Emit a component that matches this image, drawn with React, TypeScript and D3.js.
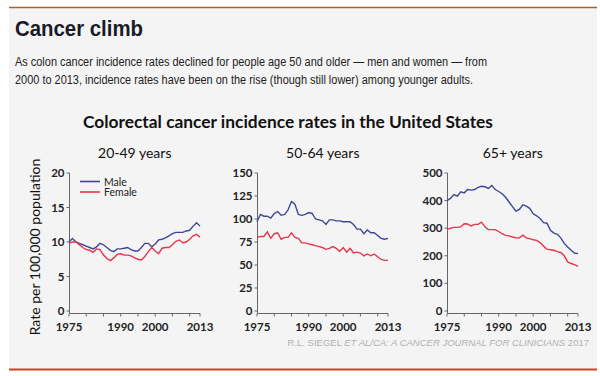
import React from "react";
import * as d3 from "d3";

const years: number[] = d3.range(1975, 2014);

const young_male = [10.0, 10.5, 10.0, 9.8, 9.6, 9.4, 9.2, 9.0, 9.3, 9.8, 9.6, 9.2, 8.8, 8.6, 9.0, 9.0, 9.1, 9.2, 8.9, 8.7, 8.7, 9.2, 9.8, 9.8, 9.3, 9.7, 10.3, 10.4, 10.6, 10.9, 11.2, 11.4, 11.4, 11.4, 11.6, 11.7, 12.3, 12.8, 12.3];
const young_female = [9.8, 10.0, 10.0, 9.6, 9.2, 8.9, 8.8, 8.5, 9.0, 8.9, 8.1, 7.6, 7.3, 7.7, 8.2, 8.3, 8.1, 8.1, 8.0, 7.7, 7.5, 7.4, 7.9, 8.6, 9.2, 8.7, 8.3, 9.1, 9.2, 9.2, 9.6, 10.1, 10.3, 9.9, 10.0, 10.4, 10.9, 11.1, 10.7];

const mid_male = [97, 105, 103, 103, 101, 106, 108, 104, 105, 110, 119, 116, 105, 104, 105, 107, 106, 100, 99, 98, 94, 99, 99, 98, 98, 97, 97, 97, 94, 89, 89, 84, 88, 85, 85, 82, 79, 78, 79];
const mid_female = [80, 81, 81, 86, 79, 84, 85, 78, 80, 80, 85, 80, 79, 74, 74, 73, 72, 71, 70, 69, 67, 68, 70, 68, 65, 69, 64, 68, 63, 64, 63, 60, 62, 60, 62, 59, 56, 55, 55];

const old_male = [400, 408, 422, 416, 432, 428, 440, 438, 440, 448, 452, 450, 444, 455, 440, 433, 425, 412, 395, 378, 362, 368, 385, 380, 372, 352, 345, 335, 320, 318, 292, 282, 278, 265, 245, 232, 220, 210, 208];
const old_female = [295, 300, 303, 303, 305, 316, 315, 308, 314, 314, 322, 305, 295, 295, 295, 288, 280, 274, 272, 268, 265, 265, 275, 265, 262, 258, 256, 248, 235, 224, 222, 220, 215, 212, 200, 178, 172, 168, 162];

const panelTitles = ["20-49 years", "50-64 years", "65+ years"];
const panelMax = [20, 150, 500];
const panelYTicks = [[0, 5, 10, 15, 20], [0, 25, 50, 75, 100, 125, 150], [0, 100, 200, 300, 400, 500]];
const xTickValues = [1975, 1980, 1985, 1990, 1995, 2000, 2005, 2010, 2013];
const xTickLabels = [1975, 1990, 2000, 2013];
const seriesNames = ["Male", "Female"];

const maleData = [young_male, mid_male, old_male];
const femaleData = [young_female, mid_female, old_female];

const MALE = "#3f4797";
const FEMALE = "#e8344c";
const LATO = "Lato, 'Noto Sans', sans-serif";
const ARIAL = "'Liberation Sans', Arial, sans-serif";

const panelLeft = [69, 257, 447];
const panelWidth = 131;
const yTop = 173;
const yBottom = 311;
const xAxisY = 313.5;

function Panel({ idx }: { idx: number }) {
  const x = d3.scaleLinear().domain([1975, 2013]).range([panelLeft[idx], panelLeft[idx] + panelWidth]);
  const y = d3.scaleLinear().domain([0, panelMax[idx]]).range([yBottom, yTop]);
  const line = d3
    .line<number>()
    .x((_, i) => x(years[i]))
    .y((d) => y(d))
    .curve(d3.curveLinear);
  const x0 = panelLeft[idx] + 0.5;
  const x1 = panelLeft[idx] + panelWidth;
  return (
    <g>
      <text x={(x0 + x1) / 2} y={158} textAnchor="middle" fontFamily={LATO} fontSize={14} fill="#111">
        {panelTitles[idx]}
      </text>
      <line x1={x0} x2={x0} y1={yTop} y2={xAxisY} stroke="#666" strokeWidth={1} />
      <line x1={x0} x2={x1} y1={xAxisY} y2={xAxisY} stroke="#666" strokeWidth={1} />
      {panelYTicks[idx].map((t) => (
        <g key={t}>
          <line x1={x0 - 3} x2={x0} y1={y(t)} y2={y(t)} stroke="#666" strokeWidth={1} />
          <text x={x0 - 5} y={y(t) + 4} textAnchor="end" fontFamily={LATO} fontWeight={700} fontSize={11.5} fill="#222">
            {t}
          </text>
        </g>
      ))}
      {xTickValues.map((t) => (
        <line key={t} x1={x(t)} x2={x(t)} y1={xAxisY} y2={xAxisY + 3} stroke="#666" strokeWidth={1} />
      ))}
      {xTickLabels.map((t) => (
        <text key={t} x={x(t)} y={330.5} textAnchor="middle" fontFamily={LATO} fontWeight={700} fontSize={11.5} fill="#222">
          {t}
        </text>
      ))}
      <path d={line(maleData[idx]) || ""} fill="none" stroke={MALE} strokeWidth={1.4} />
      <path d={line(femaleData[idx]) || ""} fill="none" stroke={FEMALE} strokeWidth={1.4} />
    </g>
  );
}

export default function App() {
  return (
    <svg width={600} height={376} style={{ position: "absolute", left: 0, top: 0, background: "#fff" }}>
      <rect x={9} y={7} width={588} height={362} fill="#f4f4f4" />
      <line x1={9} x2={597} y1={7.5} y2={7.5} stroke="#a8602e" strokeWidth={1.6} />
      <line x1={9} x2={597} y1={369.5} y2={369.5} stroke="#c94422" strokeWidth={2} />
      <text x={15} y={36} fontFamily={ARIAL} fontWeight={700} fontSize={21.5} fill="#1b1b28" textLength={128} lengthAdjust="spacingAndGlyphs">
        Cancer climb
      </text>
      <text x={15} y={66} fontFamily={ARIAL} fontSize={12.5} fill="#222" textLength={472} lengthAdjust="spacingAndGlyphs">
        As colon cancer incidence rates declined for people age 50 and older — men and women — from
      </text>
      <text x={15} y={84} fontFamily={ARIAL} fontSize={12.5} fill="#222" textLength={458} lengthAdjust="spacingAndGlyphs">
        2000 to 2013, incidence rates have been on the rise (though still lower) among younger adults.
      </text>
      <text x={288} y={128} textAnchor="middle" fontFamily={LATO} fontWeight={700} fontSize={17.5} fill="#111" textLength={410} lengthAdjust="spacingAndGlyphs">
        Colorectal cancer incidence rates in the United States
      </text>
      <text
        transform="translate(40,247) rotate(-90)"
        textAnchor="middle"
        fontFamily={LATO}
        fontSize={14}
        fill="#111"
      >
        Rate per 100,000 population
      </text>
      {[0, 1, 2].map((i) => (
        <Panel key={i} idx={i} />
      ))}
      {seriesNames.map((n, i) => (
        <g key={n}>
          <line x1={80} x2={100} y1={181.5 + i * 10.5} y2={181.5 + i * 10.5} stroke={i === 0 ? MALE : FEMALE} strokeWidth={1.6} />
          <text x={104} y={185.5 + i * 10.5} fontFamily={LATO} fontSize={10.5} fill="#222">
            {n}
          </text>
        </g>
      ))}
      <text x={589} y={346} textAnchor="end" fontFamily={ARIAL} fontSize={9.5} fill="#b0b0b0">
        R.L. SIEGEL <tspan fontStyle="italic">ET AL/CA: A CANCER JOURNAL FOR CLINICIANS</tspan> 2017
      </text>
    </svg>
  );
}
